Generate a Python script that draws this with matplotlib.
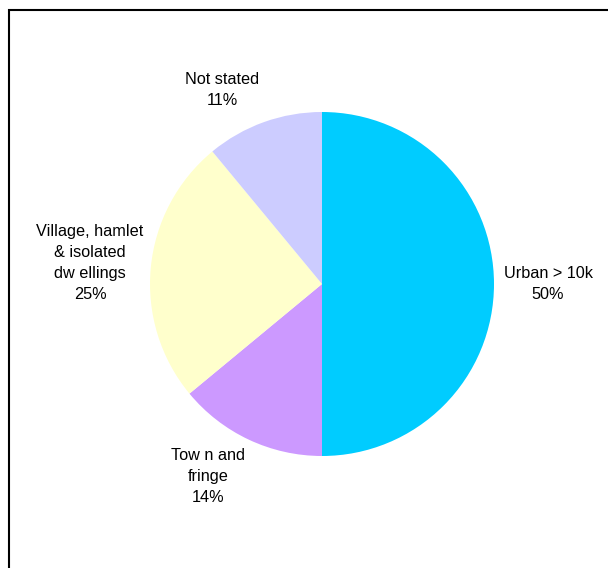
import matplotlib.pyplot as plt
from matplotlib.patches import Rectangle

plt.rcParams['font.family'] = ['Liberation Sans', 'DejaVu Sans']

# settlement type shares (%)
categories = ['Urban > 10k', 'Tow n and\nfringe', 'Village, hamlet\n& isolated\ndw ellings', 'Not stated']
shares = [50, 14, 25, 11]
colors = ['#00CCFF', '#CC99FF', '#FFFFCC', '#CCCCFF']

W, H = 608, 568
fig = plt.figure(figsize=(W / 100, H / 100), dpi=100)
ax = fig.add_axes([0, 0, 1, 1])

cx, cy, r = 322, H - 284, 172
ax.pie(shares, colors=colors, startangle=90, counterclock=False,
       center=(cx, cy), radius=r, frame=True,
       wedgeprops=dict(linewidth=0))
ax.set_xlim(0, W)
ax.set_ylim(0, H)
ax.set_aspect('equal')
ax.axis('off')

# label positions (pixel coordinates, y from top)
label_pos = [(548, 284), (208, 476), (90, 263), (222, 90)]
for name, val, (lx, ly) in zip(categories, shares, label_pos):
    ax.text(lx, H - ly, f'{name}\n{val}%', ha='center', va='center',
            fontsize=11.7, linespacing=1.5, color='black')

# chart area border
fig.patches.append(Rectangle((9 / W, -0.05), 1.1, 1 - 10 / H + 0.05,
                             transform=fig.transFigure, fill=False,
                             edgecolor='black', linewidth=1.5))

fig.savefig('out.png', dpi=100)
